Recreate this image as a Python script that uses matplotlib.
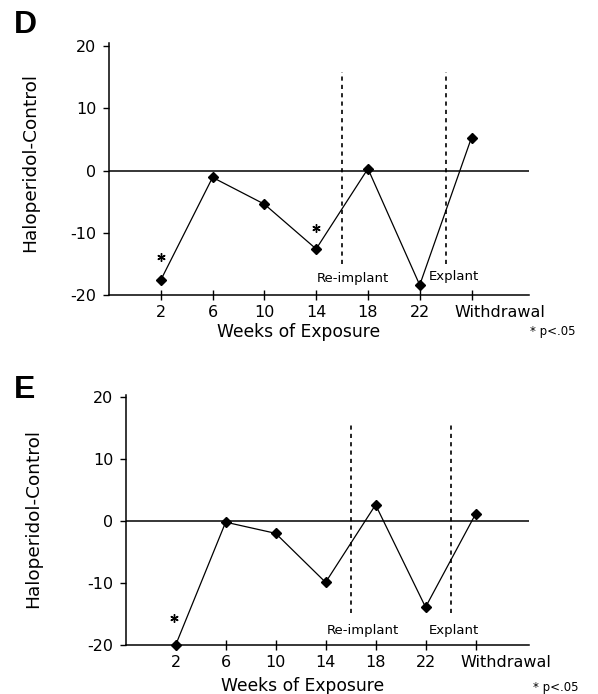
import matplotlib
matplotlib.use("Agg")
import matplotlib.pyplot as plt
from matplotlib.transforms import ScaledTranslation

# ---- data ----
categories = ["2", "6", "10", "14", "18", "22", "Withdrawal"]
d_values = [-17.6, -1.1, -5.4, -12.6, 0.3, -18.4, 5.3]
e_values = [-20.0, -0.2, -2.0, -9.9, 2.6, -13.9, 1.1]
d_sig_idx = [0, 3]
d_sig_y = [-13.9, -9.2]
e_sig_idx = [0]
e_sig_y = [-15.7]
yticks = [-20, -10, 0, 10, 20]
event_labels = ["Re-implant", "Explant"]
event_pos = [4.5, 6.5]

plt.rcParams['font.family'] = ['DejaVu Sans']

fig = plt.figure(figsize=(5.98, 6.94), dpi=100)

W, H = 598.0, 694.0

def make_panel(rect, values, sig_idx, sig_y, xmax, ytop, lab_xy, letter_xy,
               ylab_xy, xlab_xy, p_xy, dash_ylim, wd_shift, sig_dx):
    ax = fig.add_axes(rect)
    x = list(range(1, len(values) + 1))
    ax.axhline(0, color='black', lw=1.1, zorder=1)
    for xp in event_pos:
        ax.plot([xp, xp], dash_ylim, color='black', lw=1.2,
                linestyle=(0, (2.5, 2.5)), zorder=1)
    ax.plot(x, values, color='black', lw=0.9, marker='D', markersize=5.5,
            clip_on=False, zorder=3)
    ax.plot([x[i] + sig_dx for i in sig_idx], sig_y,
            linestyle='none', marker=(6, 2, 0), markersize=6, color='black',
            markeredgewidth=1.0)
    for (lx, ly), t in zip(lab_xy, event_labels):
        ax.text(lx, ly, t, ha='center', va='center', fontsize=9.5)
    ax.set_xlim(0, xmax)
    ax.set_ylim(-20, ytop)
    for s in ['top', 'right']:
        ax.spines[s].set_visible(False)
    for s in ['left', 'bottom']:
        ax.spines[s].set_linewidth(1.1)
    ax.tick_params(axis='x', direction='inout', length=7, width=1.0, pad=4)
    ax.tick_params(axis='y', direction='out', length=4, width=1.0, pad=5)
    ax.set_xticks(x)
    ax.set_xticklabels(categories[:-1] + [""], fontsize=11.5)
    ax.set_yticks(yticks)
    ax.set_yticklabels([str(v) for v in yticks], fontsize=11.5)
    # last category label drawn offset to the right, as in the original
    off = ScaledTranslation(wd_shift / 100.0, 0, fig.dpi_scale_trans)
    ax.text(x[-1], 0, categories[-1], fontsize=11.5, ha='center', va='top',
            transform=ax.get_xaxis_transform() + off
            + ScaledTranslation(0, -(3.5 + 4) / 72.0, fig.dpi_scale_trans))
    fig.text(letter_xy[0] / W, 1 - letter_xy[1] / H, letter_xy[2],
             fontsize=23, fontweight='bold', family=['Liberation Sans', 'DejaVu Sans'],
             ha='center', va='center')
    fig.text(ylab_xy[0] / W, 1 - ylab_xy[1] / H, "Haloperidol-Control",
             rotation=90, fontsize=13.3, ha='center', va='center')
    fig.text(xlab_xy[0] / W, 1 - xlab_xy[1] / H, "Weeks of Exposure",
             fontsize=12.3, ha='center', va='center')
    fig.text(p_xy[0] / W, 1 - p_xy[1] / H, "* p<.05",
             fontsize=8.5, ha='center', va='center')
    return ax

# Panel D
make_panel([109 / W, 1 - 295 / H, (529 - 109) / W, 252 / H],
           d_values, d_sig_idx, d_sig_y, 8.11, 20.5,
           [(4.71, -17.4), (6.66, -17.1)], (25, 25, "D"),
           (30, 162), (299, 332), (553, 332), (-15.0, 15.8), 28, 0.0)

# Panel E
make_panel([125.7 / W, 1 - 645 / H, (529 - 125.7) / W, 250 / H],
           e_values, e_sig_idx, e_sig_y, 8.07, 20.3,
           [(4.75, -17.6), (6.57, -17.6)], (25, 390, "E"),
           (33, 519), (303, 686), (556, 687), (-14.8, 15.5), 30, -0.04)

fig.savefig("out.png", dpi=100)
